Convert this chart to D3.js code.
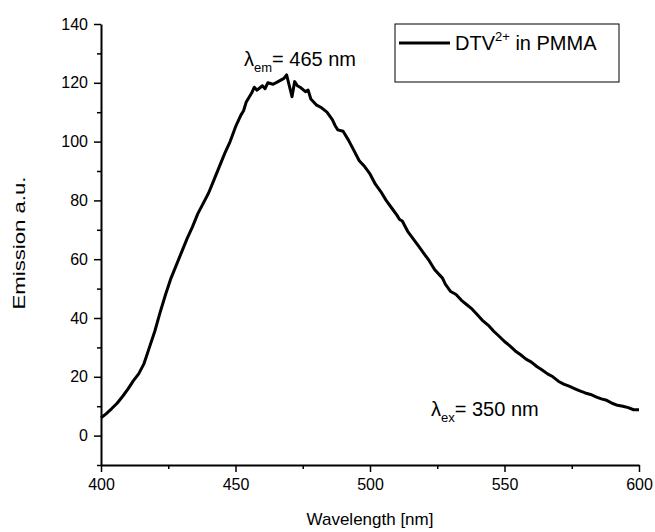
<!DOCTYPE html>
<html>
<head>
<meta charset="utf-8">
<script src="https://cdn.jsdelivr.net/npm/d3@7"></script>
<style>
  body { margin: 0; background: #fff; }
  svg { display: block; font-family: "Liberation Sans", Arial, sans-serif; }
</style>
</head>
<body>
<div id="chart"></div>
<script>
// emission spectrum
const wavelength = [400, 402, 404, 406, 408, 410, 412, 414, 416, 418, 420, 422, 424, 426, 428, 430,
  432, 434, 436, 438, 440, 442, 444, 446, 448, 450, 452, 453, 454, 456, 457, 458, 460, 461, 462, 464, 466, 468,
  469, 470, 471, 472, 473, 474, 476, 477, 478, 480, 482, 484, 486, 487, 488, 490, 492, 494, 496, 498, 500,
  502, 504, 506, 508, 510, 511, 512, 514, 516, 518, 520, 522, 524, 526, 527, 528, 530, 532, 534, 536,
  538, 540, 542, 544, 546, 548, 550, 552, 554, 556, 558, 560, 562, 564, 566, 568, 570, 572,
  574, 576, 578, 580, 582, 584, 586, 588, 590, 592, 594, 596, 598, 600];
const emission = [6, 7.5, 9.2, 11, 13.3, 15.8, 18.6, 21, 24.5, 30, 35.5, 42, 48, 53.5, 58, 62.5,
  67, 71, 75.5, 79, 82.5, 87, 91.5, 96, 100, 105, 109, 110.5, 113.5, 116.5, 118.5, 117.5, 119, 118, 120, 119.5, 120.5, 121.5,
  122.7, 119, 115.3, 120.4, 119, 118.5, 117, 117.5, 114.5, 112.5, 111.5, 110, 107.5, 105.5, 104, 103.5, 100.5, 97, 93.5, 91.5, 89,
  85.5, 83, 80, 77.5, 75, 73.5, 73, 69.5, 67, 64.5, 62, 59.5, 56.5, 54.5, 53.5, 51.5, 49, 48, 46, 44.5,
  43, 41, 39, 37.5, 35.5, 33.8, 32, 30.5, 28.8, 27.5, 26, 25, 23.5, 22.3, 21, 20, 18.5, 17.5,
  16.8, 16, 15.2, 14.5, 14, 13.2, 12.5, 12, 11, 10.3, 10, 9.5, 8.8, 8.8];

const xTicks = [400, 450, 500, 550, 600];
const xMinor = [425, 475, 525, 575];
const yTicks = [0, 20, 40, 60, 80, 100, 120, 140];
const yMinor = [-10, 10, 30, 50, 70, 90, 110, 130];

const width = 655, height = 532;

const svg = d3.create("svg")
    .attr("width", width)
    .attr("height", height);

const x = d3.scaleLinear().domain([400, 600]).range([101, 639]);
const y = d3.scaleLinear().domain([-10, 140]).range([465, 24]);

// axes
const gx = svg.append("g").attr("transform", `translate(0,${y(-10)})`);
gx.call(d3.axisBottom(x).tickValues(xTicks).tickSize(7).tickSizeOuter(0).tickPadding(7));
gx.append("g").call(d3.axisBottom(x).tickValues(xMinor).tickSize(4).tickFormat(""))
    .select(".domain").remove();

const gy = svg.append("g").attr("transform", `translate(${x(400)},0)`);
gy.call(d3.axisLeft(y).tickValues(yTicks).tickSize(7).tickSizeOuter(0).tickPadding(6));
gy.append("g").call(d3.axisLeft(y).tickValues(yMinor).tickSize(4).tickFormat(""))
    .select(".domain").remove();

svg.selectAll(".domain").attr("stroke", "#000").attr("stroke-width", 2);
svg.selectAll(".tick line").attr("stroke", "#000").attr("stroke-width", 1.5);
svg.selectAll(".tick text")
    .attr("fill", "#000")
    .attr("font-size", 16)
    .attr("font-family", "Liberation Sans, Arial, sans-serif");

// curve
const pts = wavelength.map((w, i) => [w, emission[i]]);
svg.append("path")
    .datum(pts)
    .attr("fill", "none")
    .attr("stroke", "#000")
    .attr("stroke-width", 3)
    .attr("stroke-linejoin", "round")
    .attr("d", d3.line().x(d => x(d[0])).y(d => y(d[1])));

// axis titles
svg.append("text")
    .attr("x", (x(400) + x(600)) / 2)
    .attr("y", 525)
    .attr("text-anchor", "middle")
    .attr("font-size", 17)
    .text("Wavelength [nm]");

svg.append("text")
    .attr("transform", `translate(25,243) rotate(-90)`)
    .attr("text-anchor", "middle")
    .attr("font-size", 17)
    .attr("textLength", 133)
    .attr("lengthAdjust", "spacingAndGlyphs")
    .text("Emission a.u.");

// legend
const leg = svg.append("g");
leg.append("rect")
    .attr("x", 395).attr("y", 24)
    .attr("width", 224).attr("height", 58)
    .attr("fill", "#fff")
    .attr("stroke", "#000")
    .attr("stroke-width", 1);
leg.append("line")
    .attr("x1", 399).attr("x2", 450)
    .attr("y1", 43).attr("y2", 43)
    .attr("stroke", "#000")
    .attr("stroke-width", 3);
const lt = leg.append("text")
    .attr("x", 455).attr("y", 50)
    .attr("font-size", 20);
lt.append("tspan").text("DTV");
lt.append("tspan").attr("font-size", 13).attr("dy", -9).text("2+");
lt.append("tspan").attr("dy", 9).text(" in PMMA");

// annotations
function lambda(xp, yp, sub, rest) {
    const t = svg.append("text").attr("x", xp).attr("y", yp).attr("font-size", 20);
    t.append("tspan").text("λ");
    t.append("tspan").attr("font-size", 13).attr("dy", 6).text(sub);
    t.append("tspan").attr("dy", -6).text(rest);
}
lambda(244, 66, "em", "= 465 nm");
lambda(431, 416, "ex", "= 350 nm");

document.getElementById("chart").appendChild(svg.node());
</script>
</body>
</html>
